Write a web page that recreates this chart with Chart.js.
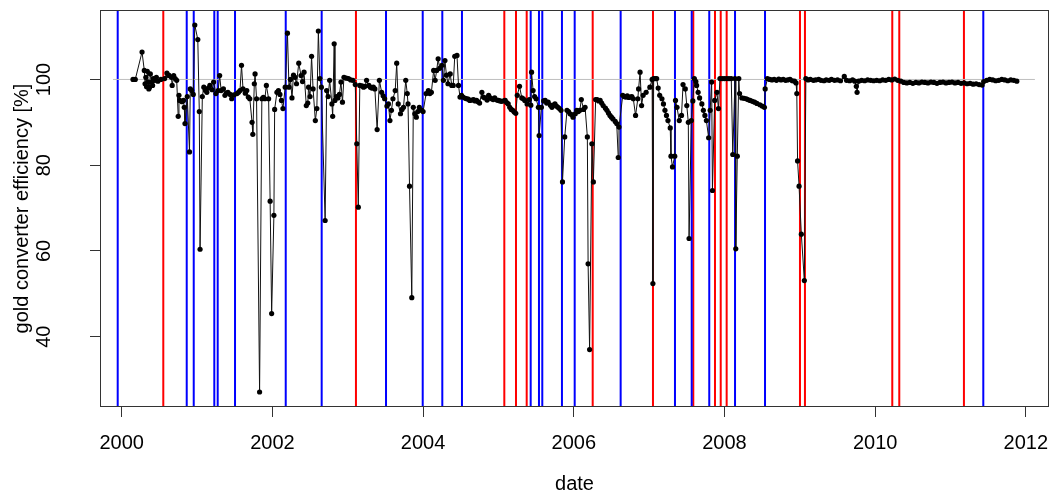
<!DOCTYPE html>
<html>
<head>
<meta charset="utf-8">
<script src="https://cdn.jsdelivr.net/npm/chart.js@4"></script>
<style>
  body { margin: 0; background: #fff; }
  canvas { display: block; }
</style>
</head>
<body>
<canvas id="effChart" width="1054" height="494"></canvas>
<script>
// decimal year of each measurement
const dates = [
  2000.15, 2000.18, 2000.27, 2000.30, 2000.31, 2000.32, 2000.33, 2000.34, 2000.35, 2000.36,
  2000.37, 2000.38, 2000.40, 2000.41, 2000.42, 2000.44, 2000.46, 2000.48, 2000.52, 2000.57,
  2000.60, 2000.62, 2000.63, 2000.66, 2000.67, 2000.69, 2000.71, 2000.73, 2000.75, 2000.76,
  2000.77, 2000.80, 2000.82, 2000.83, 2000.84, 2000.87, 2000.90, 2000.91, 2000.93, 2000.95,
  2000.97, 2001.01, 2001.03, 2001.04, 2001.07, 2001.09, 2001.11, 2001.13, 2001.15, 2001.17,
  2001.20, 2001.22, 2001.25, 2001.28, 2001.30, 2001.32, 2001.35, 2001.37, 2001.39, 2001.41,
  2001.44, 2001.46, 2001.49, 2001.53, 2001.55, 2001.57, 2001.59, 2001.61, 2001.64, 2001.66,
  2001.68, 2001.70, 2001.73, 2001.74, 2001.76, 2001.77, 2001.79, 2001.83, 2001.86, 2001.88,
  2001.90, 2001.92, 2001.95, 2001.97, 2001.99, 2002.02, 2002.03, 2002.06, 2002.08, 2002.10,
  2002.12, 2002.14, 2002.17, 2002.20, 2002.22, 2002.24, 2002.26, 2002.28, 2002.30, 2002.32,
  2002.35, 2002.38, 2002.40, 2002.42, 2002.45, 2002.47, 2002.48, 2002.50, 2002.52, 2002.54,
  2002.57, 2002.59, 2002.61, 2002.63, 2002.65, 2002.70, 2002.72, 2002.74, 2002.76, 2002.79,
  2002.80, 2002.82, 2002.83, 2002.85, 2002.87, 2002.89, 2002.91, 2002.93, 2002.95, 2002.98,
  2003.01, 2003.04, 2003.07, 2003.10, 2003.12, 2003.14, 2003.16, 2003.19, 2003.21, 2003.23,
  2003.25, 2003.28, 2003.30, 2003.32, 2003.34, 2003.36, 2003.39, 2003.42, 2003.45, 2003.47,
  2003.49, 2003.52, 2003.54, 2003.56, 2003.58, 2003.60, 2003.63, 2003.65, 2003.67, 2003.70,
  2003.72, 2003.74, 2003.77, 2003.79, 2003.80, 2003.82, 2003.85, 2003.87, 2003.89, 2003.91,
  2003.93, 2003.95, 2003.98, 2004.00, 2004.04, 2004.07, 2004.09, 2004.11, 2004.14, 2004.16,
  2004.18, 2004.20, 2004.22, 2004.25, 2004.27, 2004.29, 2004.31, 2004.33, 2004.36, 2004.38,
  2004.40, 2004.42, 2004.45, 2004.47, 2004.49, 2004.51, 2004.53, 2004.56, 2004.58, 2004.60,
  2004.62, 2004.65, 2004.67, 2004.69, 2004.71, 2004.73, 2004.75, 2004.78, 2004.80, 2004.82,
  2004.85, 2004.87, 2004.89, 2004.91, 2004.93, 2004.95, 2004.98, 2005.00, 2005.02, 2005.04,
  2005.07, 2005.09, 2005.11, 2005.13, 2005.15, 2005.17, 2005.19, 2005.21, 2005.23, 2005.25,
  2005.28, 2005.31, 2005.33, 2005.35, 2005.38, 2005.41, 2005.43, 2005.44, 2005.46, 2005.48,
  2005.50, 2005.53, 2005.54, 2005.57, 2005.60, 2005.62, 2005.64, 2005.66, 2005.69, 2005.71,
  2005.73, 2005.75, 2005.77, 2005.79, 2005.81, 2005.83, 2005.85, 2005.88, 2005.91, 2005.93,
  2005.95, 2005.97, 2005.99, 2006.02, 2006.04, 2006.06, 2006.08, 2006.10, 2006.13, 2006.15,
  2006.18, 2006.19, 2006.21, 2006.24, 2006.26, 2006.29, 2006.31, 2006.33, 2006.35, 2006.37,
  2006.39, 2006.42, 2006.44, 2006.46, 2006.48, 2006.50, 2006.52, 2006.55, 2006.57, 2006.59,
  2006.60, 2006.65, 2006.67, 2006.69, 2006.71, 2006.73, 2006.75, 2006.77, 2006.79, 2006.82,
  2006.85, 2006.86, 2006.88, 2006.90, 2006.92, 2006.96, 2007.01, 2007.04, 2007.05, 2007.06,
  2007.08, 2007.10, 2007.12, 2007.14, 2007.17, 2007.19, 2007.21, 2007.23, 2007.25, 2007.28,
  2007.29, 2007.31, 2007.34, 2007.35, 2007.37, 2007.40, 2007.43, 2007.45, 2007.48, 2007.50,
  2007.52, 2007.53, 2007.56, 2007.58, 2007.60, 2007.62, 2007.63, 2007.65, 2007.67, 2007.70,
  2007.72, 2007.74, 2007.76, 2007.79, 2007.81, 2007.83, 2007.84, 2007.87, 2007.90, 2007.92,
  2007.94, 2007.97, 2008.00, 2008.03, 2008.06, 2008.09, 2008.11, 2008.14, 2008.15, 2008.17,
  2008.19, 2008.20, 2008.23, 2008.26, 2008.29, 2008.31, 2008.34, 2008.37, 2008.40, 2008.43,
  2008.47, 2008.50, 2008.53, 2008.54, 2008.57, 2008.60, 2008.63, 2008.66, 2008.69, 2008.72,
  2008.75, 2008.78, 2008.81, 2008.84, 2008.87, 2008.90, 2008.93, 2008.95, 2008.96, 2008.97,
  2008.99, 2009.02, 2009.06, 2009.08, 2009.11, 2009.14, 2009.18, 2009.21, 2009.25, 2009.28,
  2009.32, 2009.35, 2009.39, 2009.42, 2009.46, 2009.50, 2009.54, 2009.59, 2009.62, 2009.66,
  2009.70, 2009.73, 2009.75, 2009.76, 2009.78, 2009.82, 2009.86, 2009.90, 2009.94, 2009.98,
  2010.02, 2010.06, 2010.10, 2010.14, 2010.18, 2010.22, 2010.26, 2010.30, 2010.34, 2010.38,
  2010.42, 2010.46, 2010.50, 2010.54, 2010.58, 2010.62, 2010.66, 2010.70, 2010.74, 2010.78,
  2010.82, 2010.86, 2010.90, 2010.94, 2010.98, 2011.02, 2011.06, 2011.10, 2011.14, 2011.18,
  2011.22, 2011.26, 2011.30, 2011.34, 2011.38, 2011.42, 2011.44, 2011.48, 2011.52, 2011.56,
  2011.60, 2011.64, 2011.68, 2011.72, 2011.76, 2011.80, 2011.84, 2011.88
];

// gold converter efficiency [%]
const efficiency = [
  100.0, 100.0, 106.4, 102.1, 99.0, 100.5, 98.3, 101.9, 99.4, 97.8,
  98.2, 101.3, 99.4, 98.6, 100.2, 99.8, 100.5, 99.6, 100.0, 100.2,
  101.5, 101.0, 100.9, 100.5, 98.6, 100.9, 100.2, 99.8, 91.4, 96.3,
  95.1, 94.8, 95.1, 93.5, 89.7, 96.0, 83.1, 97.8, 97.4, 96.5,
  112.7, 109.3, 92.5, 60.4, 96.0, 98.2, 97.5, 97.0, 98.0, 98.6,
  97.6, 99.4, 96.7, 97.4, 100.9, 97.4, 97.8, 96.3, 96.8, 97.0,
  96.5, 95.5, 96.4, 96.7, 97.0, 97.4, 103.3, 97.8, 96.8, 97.4,
  95.9, 95.5, 90.0, 87.2, 99.0, 101.3, 95.5, 27.1, 95.5, 95.8,
  95.5, 98.6, 95.5, 71.6, 45.4, 68.3, 93.0, 97.0, 97.4, 96.5,
  95.1, 93.2, 98.2, 110.8, 98.2, 100.0, 95.7, 101.0, 100.5, 99.0,
  103.8, 100.9, 99.5, 101.7, 93.9, 94.5, 98.2, 96.0, 105.4, 97.8,
  90.4, 93.2, 111.3, 100.2, 98.2, 67.1, 97.4, 96.0, 99.8, 94.3,
  91.4, 108.3, 95.1, 96.0, 95.7, 96.5, 99.4, 94.7, 100.5, 100.3,
  100.2, 99.9, 99.8, 98.8, 85.0, 70.2, 98.6, 98.5, 98.2, 98.4,
  99.8, 98.6, 98.2, 98.0, 98.2, 97.8, 88.3, 99.8, 97.0, 96.2,
  95.5, 93.8, 94.3, 90.4, 92.8, 95.5, 97.4, 103.8, 94.3, 92.0,
  93.0, 93.5, 99.8, 96.7, 94.3, 75.1, 49.1, 93.5, 92.0, 91.2,
  92.5, 93.5, 92.8, 92.5, 96.7, 97.4, 96.7, 97.0, 102.1, 99.8,
  102.1, 104.8, 102.6, 103.3, 99.8, 104.4, 101.0, 99.0, 101.3, 98.6,
  98.6, 105.4, 105.6, 98.6, 95.9, 96.3, 95.9, 95.6, 95.5, 95.4,
  95.1, 95.2, 95.3, 95.0, 95.1, 94.8, 94.5, 97.0, 95.9, 95.7,
  95.2, 96.3, 95.7, 95.5, 95.3, 95.7, 95.2, 95.1, 95.0, 94.9,
  95.0, 95.1, 94.6, 94.3, 93.5, 93.0, 92.8, 92.4, 92.1, 96.3,
  98.4, 95.7, 95.5, 95.1, 94.3, 95.3, 94.0, 101.7, 97.4, 96.0,
  95.5, 93.5, 86.9, 93.5, 95.0, 95.1, 94.5, 94.7, 94.0, 93.5,
  94.0, 94.3, 93.8, 93.5, 93.2, 92.8, 76.1, 86.6, 92.8, 92.5,
  92.0, 91.8, 91.2, 92.0, 92.8, 92.5, 92.8, 95.3, 93.0, 93.5,
  86.6, 57.0, 37.0, 85.0, 76.1, 95.3, 95.3, 95.0, 95.1, 94.5,
  93.9, 93.3, 92.8, 92.2, 91.6, 91.2, 90.8, 90.2, 89.7, 81.8,
  88.9, 96.3, 96.0, 95.9, 96.2, 95.8, 95.9, 96.0, 95.5, 91.6,
  95.5, 97.8, 101.7, 93.9, 96.3, 97.0, 98.2, 100.0, 52.4, 100.2,
  100.2, 100.2, 98.0, 96.3, 95.5, 94.3, 92.8, 91.6, 90.4, 88.7,
  82.1, 79.6, 82.1, 95.1, 93.5, 90.4, 91.6, 98.8, 97.8, 93.9,
  90.0, 62.9, 90.4, 95.0, 100.2, 99.5, 98.6, 97.0, 95.7, 94.3,
  92.8, 91.6, 90.4, 86.4, 92.8, 99.4, 74.1, 95.1, 97.0, 93.2,
  100.2, 100.2, 100.2, 100.2, 100.2, 100.2, 82.5, 100.2, 60.5, 82.1,
  100.2, 96.7, 95.7, 95.6, 95.5, 95.3, 95.1, 94.9, 94.7, 94.4,
  94.1, 93.8, 93.5, 97.8, 100.2, 100.0, 99.9, 100.0, 99.8, 100.1,
  99.9, 100.0, 99.8, 99.9, 100.0, 99.7, 99.6, 99.2, 96.7, 81.0,
  75.1, 63.9, 53.1, 100.2, 99.9, 100.0, 99.8, 99.9, 100.0, 99.8,
  99.7, 99.9, 99.8, 100.0, 99.8, 99.9, 99.7, 100.7, 99.8, 99.7,
  99.9, 99.6, 98.4, 97.0, 99.6, 99.8, 99.7, 99.9, 99.8, 99.7,
  99.8, 99.7, 99.9, 99.8, 100.0, 99.9, 100.1, 99.8, 99.6, 99.3,
  99.2, 99.3, 99.1, 99.3, 99.2, 99.4, 99.3, 99.2, 99.4, 99.3,
  99.1, 99.3, 99.4, 99.2, 99.3, 99.4, 99.2, 99.3, 99.1, 99.2,
  99.0, 99.1, 98.9, 99.0, 98.8, 98.7, 99.5, 99.8, 100.0, 99.9,
  99.7, 99.8, 100.0, 99.9, 99.7, 99.9, 99.8, 99.6
];

// event markers (decimal years)
const blueLines = [
  1999.947, 2000.863, 2000.956, 2001.229, 2001.274, 2001.504, 2002.177, 2002.654,
  2003.508, 2003.995, 2004.255, 2004.516, 2005.428, 2005.538, 2005.582, 2005.843,
  2006.012, 2006.622, 2007.343, 2007.565, 2007.798, 2008.140, 2008.538, 2011.435
];
const redLines = [
  2000.552, 2003.109, 2005.078, 2005.233, 2005.375, 2006.251, 2007.051, 2007.586,
  2007.874, 2007.950, 2008.029, 2009.002, 2009.068, 2010.227, 2010.320, 2011.178
];

// 100 % reference line
const refLevel = 100;
const refStart = 1999.885;
const refEnd = 2012.12;

const xTicks = [2000, 2002, 2004, 2006, 2008, 2010, 2012];
const yTicks = [40, 60, 80, 100];
const xMin = 1999.712, xMax = 2012.307;
const yMin = 23.6, yMax = 116.2;

const fontFamily = '"Liberation Sans", Arial, sans-serif';

const toVLines = (list) => {
  const pts = [];
  list.forEach(d => {
    pts.push({ x: d, y: yMin }, { x: d, y: yMax }, { x: d, y: null });
  });
  return pts;
};

// box around the plot region, like R's box()
const frame = {
  id: 'frame',
  afterDatasetsDraw(chart) {
    const { ctx, chartArea: a } = chart;
    ctx.save();
    ctx.strokeStyle = '#333';
    ctx.lineWidth = 1;
    ctx.strokeRect(Math.round(a.left) + 0.5, Math.round(a.top) + 0.5,
      Math.round(a.right - a.left) - 1, Math.round(a.bottom - a.top) - 1);
    ctx.restore();
  }
};

// y tick labels are rotated (parallel to the axis)
const yLabels = {
  id: 'yLabels',
  afterDraw(chart) {
    const { ctx } = chart;
    const scale = chart.scales.y;
    ctx.save();
    ctx.fillStyle = '#000';
    ctx.font = '20px ' + fontFamily;
    ctx.textAlign = 'center';
    ctx.textBaseline = 'alphabetic';
    yTicks.forEach(v => {
      const py = scale.getPixelForValue(v);
      ctx.save();
      ctx.translate(50, py);
      ctx.rotate(-Math.PI / 2);
      ctx.fillText(String(v), 0, 0);
      ctx.restore();
    });
    ctx.restore();
  }
};

new Chart(document.getElementById('effChart').getContext('2d'), {
  type: 'line',
  data: {
    datasets: [
      {
        label: 'efficiency',
        data: dates.map((d, i) => ({ x: d, y: efficiency[i] })),
        borderColor: '#111',
        borderWidth: 1,
        pointRadius: 2.6,
        pointBackgroundColor: '#000',
        pointBorderWidth: 0,
        tension: 0,
        order: 0
      },
      {
        label: 'reference',
        data: [{ x: refStart, y: refLevel }, { x: refEnd, y: refLevel }],
        borderColor: '#bebebe',
        borderWidth: 1,
        pointRadius: 0,
        order: 1
      },
      {
        label: 'blue events',
        data: toVLines(blueLines),
        borderColor: '#0000ff',
        borderWidth: 2,
        pointRadius: 0,
        spanGaps: false,
        order: 2
      },
      {
        label: 'red events',
        data: toVLines(redLines),
        borderColor: '#ff0000',
        borderWidth: 2,
        pointRadius: 0,
        spanGaps: false,
        order: 3
      }
    ]
  },
  options: {
    responsive: false,
    animation: false,
    layout: { padding: { top: 10, right: 5, left: 0, bottom: 0 } },
    plugins: { legend: { display: false }, tooltip: { enabled: false } },
    scales: {
      x: {
        type: 'linear',
        min: xMin,
        max: xMax,
        afterBuildTicks: s => { s.ticks = xTicks.map(v => ({ value: v })); },
        afterFit: s => { s.height = 87; s.paddingLeft = 0; s.paddingRight = 0; },
        border: { display: false },
        grid: { drawOnChartArea: false, drawTicks: true, tickLength: 10, color: '#333' },
        ticks: {
          color: '#000',
          padding: 14,
          maxRotation: 0,
          font: { family: fontFamily, size: 20 },
          callback: v => String(v)
        },
        title: {
          display: true,
          text: 'date',
          color: '#000',
          font: { family: fontFamily, size: 20, lineHeight: 1 },
          padding: { top: 0, bottom: 0 }
        }
      },
      y: {
        type: 'linear',
        min: yMin,
        max: yMax,
        afterBuildTicks: s => { s.ticks = yTicks.map(v => ({ value: v })); },
        afterFit: s => { s.width = 100; },
        border: { display: false },
        grid: { drawOnChartArea: false, drawTicks: true, tickLength: 10, color: '#333' },
        ticks: { display: false },
        title: {
          display: true,
          text: 'gold converter efficiency [%]',
          color: '#000',
          font: { family: fontFamily, size: 20, lineHeight: 1.2 },
          padding: { top: 10, bottom: 0 }
        }
      }
    }
  },
  plugins: [frame, yLabels]
});
</script>
</body>
</html>
